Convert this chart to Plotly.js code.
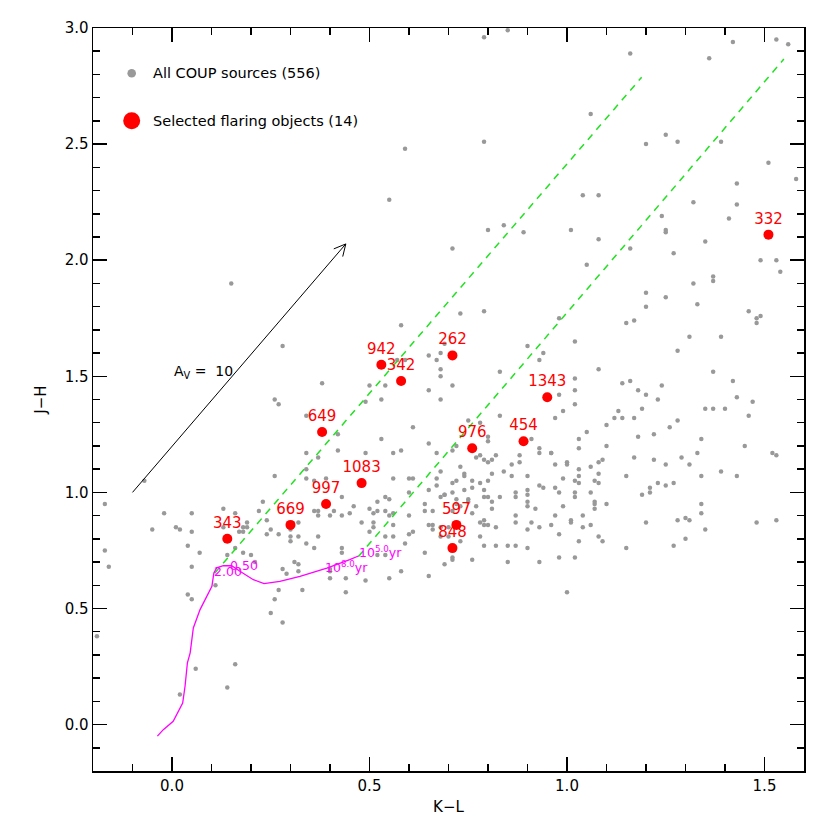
<!DOCTYPE html>
<html><head><meta charset="utf-8">
<script src="https://cdn.plot.ly/plotly-3.0.1.min.js"></script>
<style>html,body{margin:0;padding:0;background:#fff}#chart{width:830px;height:830px}</style>
</head><body><div id="chart"></div>
<script>
// All COUP sources (K-L, J-H)
const coupKL = [
0.38,0.50,0.54,0.53,0.49,0.68,0.68,0.83,0.71,0.65,
0.68,0.34,0.61,0.83,0.75,0.78,0.42,0.53,0.65,0.80,
0.80,0.91,0.34,0.37,0.42,0.49,0.56,0.58,0.67,0.71,
0.72,0.78,0.77,0.79,0.80,0.81,0.82,0.88,0.88,0.93,
0.93,0.96,0.34,0.68,0.73,0.86,0.84,0.81,0.86,0.90,
0.34,0.36,0.39,0.56,0.60,0.61,0.67,0.71,0.72,0.74,
0.74,0.76,0.78,0.80,0.67,0.65,0.74,0.69,0.71,0.76,
0.79,0.90,0.90,0.93,0.94,0.43,0.46,0.45,0.43,0.40,
0.41,0.37,0.36,0.37,0.54,0.55,0.52,0.50,0.51,0.52,
0.54,0.55,0.56,0.60,0.64,0.64,0.66,0.68,0.69,0.72,
0.75,0.72,0.73,0.75,0.77,0.79,0.80,0.81,0.83,0.81,
0.87,0.87,0.90,0.90,0.92,0.71,0.76,0.78,0.79,0.79,
0.80,0.82,0.87,0.87,0.91,0.93,0.96,0.90,0.60,0.48,
0.51,0.51,0.56,0.65,0.66,0.66,0.68,0.70,0.30,0.30,
0.30,0.32,0.32,0.34,0.36,0.37,0.43,0.43,0.50,0.54,
0.56,0.60,0.61,0.59,0.64,0.68,0.70,0.73,0.78,0.79,
0.82,0.85,0.87,0.90,0.71,
1.02,1.02,0.98,1.02,0.99,0.97,1.08,1.14,1.16,1.18,
1.20,1.23,1.24,1.37,1.42,1.43,1.47,1.46,1.35,1.37,
1.40,1.13,1.12,1.14,1.17,1.19,1.28,1.26,1.10,1.05,
1.03,1.03,1.10,1.18,1.22,1.34,1.33,1.45,1.52,1.53,
0.96,0.97,1.00,1.00,1.03,1.06,1.08,1.09,1.17,1.22,
1.25,1.29,1.31,1.39,1.43,1.34,1.15,0.99,1.02,1.03,
1.03,1.07,1.08,1.08,0.97,0.98,1.02,1.02,1.06,1.07,
1.07,1.07,1.10,1.19,1.21,1.21,1.23,1.25,1.27,1.34,
1.34,0.99,0.97,1.04,1.01,1.01,1.04,1.06,0.98,1.03,
1.08,1.09,1.15,1.20,1.28,1.30,1.31,1.35,1.27,1.30,
1.48,1.53,0.98,1.02,1.00,
0.28,0.29,0.31,0.32,0.32,0.33,0.28,0.40,0.40,0.40,
0.44,0.44,0.49,0.55,0.58,0.65,0.69,0.71,0.76,0.85,
0.93,0.52,0.54,
0.05,0.11,0.04,0.05,0.16,0.14,0.06,0.02,0.21,0.25,
0.26,0.27,-0.16,-0.19,
0.28,0.26,0.27,0.26,-0.07,-0.17,-0.17,-0.02,0.05,0.13,
0.16,0.23,0.22,-0.05,0.01,0.02,0.05,0.13,0.19,0.18,
0.19,0.17,0.18,0.24,0.25,0.24,0.27,0.04,0.07,0.16,
0.18,0.20,0.14,0.15,0.79,
0.59,0.79,0.55,0.80,0.84,0.89,0.71,0.73,0.79,0.58,
0.90,0.94,0.93,0.65,0.67,0.68,0.69,0.57,0.59,
0.85,1.16,1.36,1.42,1.53,1.56,1.06,1.25,1.28,1.20,
1.39,1.51,1.58,1.43,1.43,1.41,1.32,1.24,1.25,1.25,
1.27,1.35,1.16,1.08,1.05,1.01,1.04,1.08,1.20,1.20,
1.25,1.32,1.33,1.37,1.37,1.49,1.53,1.54,1.46,1.48,
1.49,0.98,1.17,
1.02,1.15,1.28,1.31,1.39,1.48
];
const coupJH = [
1.47,1.46,1.46,1.40,1.39,1.50,1.53,1.52,1.46,1.44,
1.40,1.33,1.28,1.33,1.31,1.30,1.25,1.23,1.21,1.24,
1.22,1.23,1.17,1.15,1.18,1.17,1.17,1.18,1.17,1.18,
1.20,1.16,1.15,1.14,1.13,1.14,1.16,1.16,1.13,1.19,
1.17,1.17,1.10,1.09,1.11,1.12,1.09,1.08,1.07,1.07,
1.06,1.05,1.06,1.06,1.06,1.06,1.06,1.04,1.05,1.08,
1.07,1.05,1.04,1.05,1.03,1.01,1.01,0.99,1.00,1.02,
1.01,1.01,0.99,1.03,1.02,0.98,0.94,0.91,0.90,0.90,
0.92,0.92,0.92,0.90,0.98,0.97,0.96,0.93,0.91,0.92,
0.92,0.90,0.91,1.00,0.95,0.92,0.92,0.98,0.99,0.97,
0.97,0.95,0.94,0.96,0.94,0.98,0.98,0.96,0.98,0.93,
1.00,0.98,0.96,0.94,0.93,0.92,0.91,0.87,0.88,0.86,
0.86,0.85,0.90,0.87,0.87,0.85,0.86,0.84,0.90,0.87,
0.87,0.85,0.86,0.86,0.86,0.84,0.85,0.85,0.84,0.81,
0.79,0.87,0.81,0.78,0.76,0.81,0.76,0.74,0.83,0.81,
0.81,0.82,0.83,0.78,0.74,0.81,0.81,0.79,0.81,0.77,
0.77,0.77,0.77,0.76,0.72,
1.49,1.44,1.42,1.38,1.35,1.32,1.53,1.47,1.48,1.44,
1.42,1.40,1.46,1.52,1.48,1.41,1.39,1.33,1.36,1.36,
1.36,1.35,1.32,1.32,1.32,1.36,1.31,1.28,1.29,1.26,
1.23,1.19,1.20,1.24,1.25,1.23,1.17,1.20,1.17,1.16,
1.17,1.12,1.13,1.12,1.10,1.11,1.13,1.14,1.15,1.14,
1.12,1.15,1.12,1.09,1.07,1.07,1.07,1.06,1.05,1.07,
1.04,1.05,1.08,1.04,1.02,1.00,1.00,0.98,1.00,0.96,
0.95,0.93,0.95,0.99,1.02,1.00,1.04,1.03,1.04,0.95,
0.91,0.94,0.90,0.90,0.88,0.87,0.85,0.86,0.82,0.79,
0.81,0.79,0.76,0.87,0.88,0.89,0.88,0.84,0.77,0.80,
0.87,0.88,0.72,0.72,0.57,
0.67,0.65,0.70,0.69,0.66,0.58,0.44,0.67,0.66,0.63,
0.63,0.57,0.62,0.63,0.66,0.64,0.69,0.71,0.71,0.70,
0.70,0.73,0.73,
0.68,0.60,0.56,0.54,0.26,0.16,0.24,0.13,0.70,0.48,
0.54,0.58,0.68,0.38,
1.63,1.40,1.38,1.07,1.05,0.95,0.75,0.91,0.91,0.93,
0.91,0.96,0.92,0.84,0.85,0.84,0.83,0.85,0.87,0.85,
0.85,0.83,0.83,0.88,0.84,0.82,0.82,0.77,0.74,0.76,
0.74,0.73,0.73,1.90,2.96,
2.48,2.51,2.26,2.13,2.15,2.12,2.05,1.77,1.78,1.72,
1.63,1.60,1.57,1.59,1.57,1.60,1.64,1.57,1.57,
2.99,2.89,2.87,2.94,2.95,2.93,2.63,2.54,2.51,2.50,
2.51,2.42,2.35,2.33,2.24,2.18,2.25,2.19,2.13,2.12,
2.03,2.08,2.05,2.09,1.98,2.13,2.28,2.28,1.86,1.80,
1.84,1.90,1.81,1.93,1.91,2.00,2.00,1.95,1.78,1.75,
1.76,1.75,1.74,
1.65,1.73,1.61,1.67,1.67,1.73
];

// Selected flaring objects
const flareIds = ['343','669','997','1083','649','942','342','262','976','454','1343','597','848','332'];
const flareKL  = [0.14, 0.30, 0.39, 0.48, 0.38, 0.53, 0.58, 0.71, 0.76, 0.89, 0.95, 0.72, 0.71, 1.51];
const flareJH  = [0.80, 0.86, 0.95, 1.04, 1.26, 1.55, 1.48, 1.59, 1.19, 1.22, 1.41, 0.86, 0.76, 2.11];

// Isochrone track (magenta)
const trackKL = [-0.037,-0.022,0.003,0.018,0.027,0.033,0.039,0.046,0.054,0.071,0.101,0.106,0.113,0.130,0.151,0.172,0.206,0.233,0.273,0.324,0.392,0.450,0.472];
const trackJH = [-0.050,-0.022,0.014,0.062,0.093,0.165,0.266,0.309,0.416,0.495,0.595,0.653,0.675,0.684,0.684,0.660,0.624,0.607,0.617,0.638,0.674,0.710,0.726];
const massLabels = ['2.00','0.50'];
const massKL = [0.142, 0.182];
const massJH = [0.659, 0.684];
const ageLabels = ['10<sup>8.0</sup>yr','10<sup>5.0</sup>yr'];
const ageKL = [0.381, 0.468];
const ageJH = [0.680, 0.742];

// Reddening lines (green dashed)
const reddenStartKL = [0.108, 0.472];
const reddenStartJH = [0.652, 0.724];
const reddenEndKL   = [1.189, 1.549];
const reddenEndJH   = [2.788, 2.866];

// A_V = 10 arrow
const avArrowKL = [-0.10, 0.44];
const avArrowJH = [1.00, 2.07];

const legendLabels = ['All COUP sources (556)', 'Selected flaring objects (14)'];

const FONT = 'DejaVu Sans, Liberation Sans, sans-serif';
const M = {l:93, r:26, t:28, b:59};
const XR = [-0.2, 1.6], YR = [-0.2, 3.0];
const plotW = 830 - M.l - M.r, plotH = 830 - M.t - M.b;
const sx = plotW / (XR[1]-XR[0]), sy = plotH / (YR[1]-YR[0]);

const traces = [];
traces.push({type:'scatter', mode:'markers', x:coupKL, y:coupJH,
  marker:{color:'#999999', size:4.5}, hoverinfo:'skip', showlegend:false});
for (let i=0;i<2;i++){
  traces.push({type:'scatter', mode:'lines', x:[reddenStartKL[i], reddenEndKL[i]], y:[reddenStartJH[i], reddenEndJH[i]],
    line:{color:'#22e022', width:1.5, dash:'7px,6px'}, showlegend:false, hoverinfo:'skip'});
}
traces.push({type:'scatter', mode:'lines', x:trackKL, y:trackJH,
  line:{color:'#ff00ff', width:1.3}, showlegend:false, hoverinfo:'skip'});
traces.push({type:'scatter', mode:'markers+text', x:flareKL, y:flareJH, text:flareIds,
  textposition:'top center', textfont:{color:'#ff0000', size:15, family:FONT},
  marker:{color:'#ff0000', size:10}, showlegend:false, hoverinfo:'skip'});

const shapes = [];
// arrow shaft
shapes.push({type:'line', xref:'x', yref:'y', x0:avArrowKL[0], y0:avArrowJH[0], x1:avArrowKL[1], y1:avArrowJH[1], line:{color:'black', width:1}});
const ang = Math.atan2((avArrowJH[1]-avArrowJH[0])*sy, (avArrowKL[1]-avArrowKL[0])*sx);
const headLen = 13, headAng = 27*Math.PI/180;
[1,-1].forEach(s=>{
  const a = ang + Math.PI + s*headAng;
  shapes.push({type:'line', xref:'x', yref:'y', x0:avArrowKL[1], y0:avArrowJH[1],
    x1:avArrowKL[1] + headLen*Math.cos(a)/sx, y1:avArrowJH[1] + headLen*Math.sin(a)/sy,
    line:{color:'black', width:1}});
});
// legend symbols (pixel positions converted to paper fractions)
const legPxY = [73.3, 120.7];
const legY = legPxY.map(p => (830 - M.b - p)/plotH);
const legX = (131.7-M.l)/plotW;
const legSize = [4.3, 8.5];
const legCol = ['#999999', '#ff0000'];
for (let i=0;i<2;i++){
  shapes.push({type:'circle', xref:'paper', yref:'paper', xsizemode:'pixel', ysizemode:'pixel',
    xanchor:legX, yanchor:legY[i], x0:-legSize[i], x1:legSize[i], y0:-legSize[i], y1:legSize[i],
    fillcolor:legCol[i], line:{width:0}});
}

const annotations = [];
for (let i=0;i<2;i++){
  annotations.push({xref:'paper', yref:'paper', x:(151-M.l)/plotW, y:legY[i], xanchor:'left', yanchor:'middle',
    text:legendLabels[i], showarrow:false, font:{family:FONT, size:14.5, color:'black'}});
}
annotations.push({xref:'x', yref:'y', x:0.0, y:1.52, xanchor:'left', yanchor:'middle',
  text:'A<sub>V</sub> =  10', showarrow:false, font:{family:FONT, size:14, color:'black'}});
for (let i=0;i<2;i++){
  annotations.push({xref:'x', yref:'y', x:massKL[i], y:massJH[i], xanchor:'center', yanchor:'middle',
    text:massLabels[i], showarrow:false, font:{family:FONT, size:12.5, color:'#ff00ff'}});
  annotations.push({xref:'x', yref:'y', x:ageKL[i], y:ageJH[i], xanchor:'left', yanchor:'middle',
    text:ageLabels[i], showarrow:false, font:{family:FONT, size:12.5, color:'#ff00ff'}});
}

const axisCommon = {showgrid:false, zeroline:false, showline:true, linecolor:'black', linewidth:1.5,
  mirror:'ticks', ticks:'inside', ticklen:14, tickwidth:1.5, tickcolor:'black',
  tickfont:{family:FONT, size:15, color:'black'}, dtick:0.5, tickformat:'.1f',
  minor:{dtick:0.1, ticks:'inside', ticklen:7, tickwidth:1.5, tickcolor:'black', showgrid:false}};

const layout = {
  width:830, height:830, margin:M, paper_bgcolor:'white', plot_bgcolor:'white', showlegend:false,
  xaxis:Object.assign({}, axisCommon, {range:XR, tick0:0, title:{text:'K\u2212L', font:{family:FONT, size:15, color:'black'}, standoff:8}}),
  yaxis:Object.assign({}, axisCommon, {range:YR, tick0:0, title:{text:'J\u2212H', font:{family:FONT, size:15, color:'black'}, standoff:14}}),
  shapes:shapes, annotations:annotations
};
Plotly.newPlot('chart', traces, layout, {staticPlot:true});
</script></body></html>
